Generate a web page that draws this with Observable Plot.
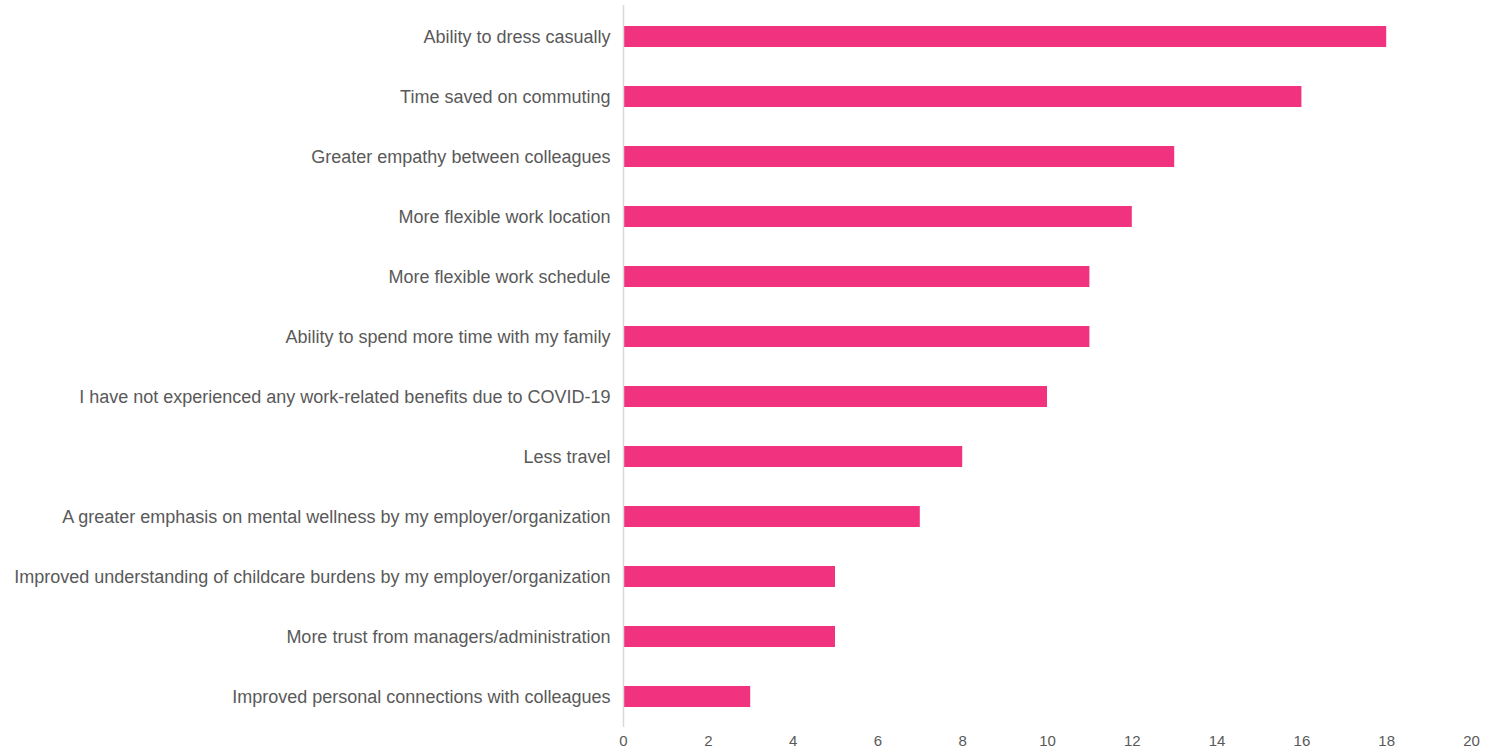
<!DOCTYPE html>
<html>
<head>
<meta charset="utf-8">
<script src="https://cdn.jsdelivr.net/npm/d3@7"></script>
<script src="https://cdn.jsdelivr.net/npm/@observablehq/plot@0.6"></script>
<style>
  html, body { margin: 0; padding: 0; background: #fff; }
  #chart { width: 1502px; height: 751px; }
</style>
</head>
<body>
<div id="chart"></div>
<script>
const categories = [
  "Ability to dress casually",
  "Time saved on commuting",
  "Greater empathy between colleagues",
  "More flexible work location",
  "More flexible work schedule",
  "Ability to spend more time with my family",
  "I have not experienced any work-related benefits due to COVID-19",
  "Less travel",
  "A greater emphasis on mental wellness by my employer/organization",
  "Improved understanding of childcare burdens by my employer/organization",
  "More trust from managers/administration",
  "Improved personal connections with colleagues"
];
const values = [18, 16, 13, 12, 11, 11, 10, 8, 7, 5, 5, 3];
const xTicks = [0, 2, 4, 6, 8, 10, 12, 14, 16, 18, 20];

const data = categories.map((c, i) => ({category: c, value: values[i]}));

const chart = Plot.plot({
  width: 1502,
  height: 751,
  marginLeft: 623,
  marginRight: 31,
  marginTop: 5,
  marginBottom: 24,
  style: {fontFamily: "'Liberation Sans', Arial, sans-serif", color: "#595959", background: "#fff"},
  x: {domain: [0, 20], ticks: xTicks},
  y: {domain: categories, paddingInner: 0.65, paddingOuter: 0.32, align: 0.5},
  marks: [
    Plot.barX(data, {x: "value", y: "category", fill: "#f0327f"}),
    Plot.ruleX([0], {stroke: "#d9d9d9", strokeWidth: 1.5}),
    Plot.axisX({ticks: xTicks, tickSize: 0, tickPadding: 8, fontSize: 15, fill: "#595959", label: null}),
    Plot.axisY({tickSize: 0, tickPadding: 13, fontSize: 18, fill: "#595959", label: null})
  ]
});
document.getElementById("chart").appendChild(chart);
</script>
</body>
</html>
